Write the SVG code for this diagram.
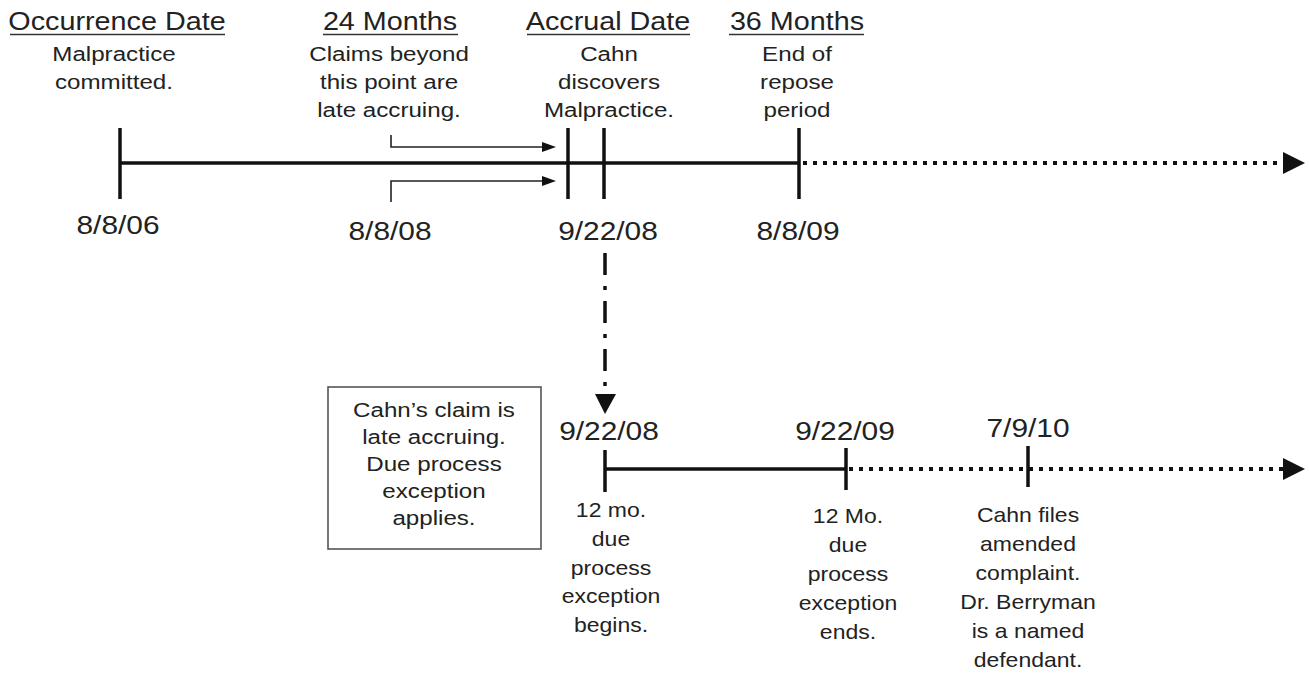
<svg xmlns="http://www.w3.org/2000/svg" width="1309" height="673" viewBox="0 0 1309 673">
<style>
text{font-family:"Liberation Sans",Arial,sans-serif;fill:#222;text-anchor:middle}
.title{font-size:25px}
.sub{font-size:21px}
.date{font-size:26px}
.low{font-size:20px}
.box{font-size:21px}
.ul{stroke:#333;stroke-width:1.6}
.tick{stroke:#111;stroke-width:3.5}
.solid{stroke:#111;stroke-width:3.5;fill:none}
.dot{stroke:#111;stroke-width:4;stroke-dasharray:4 6;fill:none}
.thin{stroke:#222;stroke-width:1.6;fill:none}
.head{fill:#111}
</style>
<rect width="1309" height="673" fill="#fff"/>
<g id="connectors">
<line class="solid" x1="120" y1="163" x2="800" y2="163"/>
<line class="dot" x1="803" y1="163" x2="1283" y2="163"/>
<polygon class="head" points="1283,152 1305,163 1283,174"/>
<polyline class="thin" points="391,135 391,147 543,147"/>
<polygon class="head" points="542,142 556,147 542,152"/>
<polyline class="thin" points="391,202 391,181 543,181"/>
<polygon class="head" points="542,176 556,181 542,186"/>
<line x1="605" y1="253" x2="605" y2="392" stroke="#111" stroke-width="3.5" stroke-dasharray="22 11 4 11"/>
<polygon class="head" points="595,394 616,394 605,414"/>
<line class="solid" x1="605" y1="469" x2="846" y2="469"/>
<line class="dot" x1="849" y1="469" x2="1283" y2="469"/>
<polygon class="head" points="1283,458 1305,469 1283,480"/>
</g>
<g id="occurrence">
<line class="tick" x1="120" y1="128" x2="120" y2="199"/>
<text class="title" transform="translate(117,30) scale(1.15,1)">Occurrence Date</text>
<line class="ul" x1="10" y1="34.5" x2="225" y2="34.5"/>
<text class="sub" transform="translate(114,0) scale(1.15,1)"><tspan x="0" y="61">Malpractice</tspan><tspan x="0" y="89">committed.</tspan></text>
<text class="date" transform="translate(118,234) scale(1.15,1)">8/8/06</text>
</g>
<g id="months24">
<text class="title" transform="translate(390,30) scale(1.15,1)">24 Months</text>
<line class="ul" x1="323" y1="34.5" x2="458" y2="34.5"/>
<text class="sub" transform="translate(389,0) scale(1.15,1)"><tspan x="0" y="61">Claims beyond</tspan><tspan x="0" y="89">this point are</tspan><tspan x="0" y="117">late accruing.</tspan></text>
<text class="date" transform="translate(390,240) scale(1.15,1)">8/8/08</text>
</g>
<g id="accrual">
<line class="tick" x1="568" y1="128" x2="568" y2="199"/>
<line class="tick" x1="604" y1="128" x2="604" y2="199"/>
<text class="title" transform="translate(608,30) scale(1.15,1)">Accrual Date</text>
<line class="ul" x1="527" y1="34.5" x2="690" y2="34.5"/>
<text class="sub" transform="translate(609,0) scale(1.15,1)"><tspan x="0" y="61">Cahn</tspan><tspan x="0" y="89">discovers</tspan><tspan x="0" y="117">Malpractice.</tspan></text>
<text class="date" transform="translate(608,240) scale(1.15,1)">9/22/08</text>
</g>
<g id="months36">
<line class="tick" x1="799" y1="128" x2="799" y2="199"/>
<text class="title" transform="translate(797,30) scale(1.15,1)">36 Months</text>
<line class="ul" x1="729" y1="34.5" x2="864" y2="34.5"/>
<text class="sub" transform="translate(797,0) scale(1.15,1)"><tspan x="0" y="61">End of</tspan><tspan x="0" y="89">repose</tspan><tspan x="0" y="117">period</tspan></text>
<text class="date" transform="translate(798,240) scale(1.15,1)">8/8/09</text>
</g>
<g id="latebox">
<rect x="328" y="387" width="213" height="162" fill="none" stroke="#555" stroke-width="1.6"/>
<text class="box" transform="translate(434,0) scale(1.15,1)"><tspan x="0" y="417">Cahn’s claim is</tspan><tspan x="0" y="444">late accruing.</tspan><tspan x="0" y="471">Due process</tspan><tspan x="0" y="498">exception</tspan><tspan x="0" y="525">applies.</tspan></text>
</g>
<g id="begin">
<line class="tick" x1="605" y1="450" x2="605" y2="492"/>
<text class="date" transform="translate(609,440) scale(1.15,1)">9/22/08</text>
<text class="low" transform="translate(611,0) scale(1.15,1)"><tspan x="0" y="517">12 mo.</tspan><tspan x="0" y="546">due</tspan><tspan x="0" y="575">process</tspan><tspan x="0" y="603">exception</tspan><tspan x="0" y="632">begins.</tspan></text>
</g>
<g id="end">
<line class="tick" x1="846" y1="448" x2="846" y2="490"/>
<text class="date" transform="translate(845,440) scale(1.15,1)">9/22/09</text>
<text class="low" transform="translate(848,0) scale(1.15,1)"><tspan x="0" y="523">12 Mo.</tspan><tspan x="0" y="552">due</tspan><tspan x="0" y="581">process</tspan><tspan x="0" y="610">exception</tspan><tspan x="0" y="639">ends.</tspan></text>
</g>
<g id="filed">
<line class="tick" x1="1028" y1="446" x2="1028" y2="487"/>
<text class="date" transform="translate(1028,437) scale(1.15,1)">7/9/10</text>
<text class="low" transform="translate(1028,0) scale(1.15,1)"><tspan x="0" y="522">Cahn files</tspan><tspan x="0" y="551">amended</tspan><tspan x="0" y="580">complaint.</tspan><tspan x="0" y="609">Dr. Berryman</tspan><tspan x="0" y="638">is a named</tspan><tspan x="0" y="667">defendant.</tspan></text>
</g>
</svg>
